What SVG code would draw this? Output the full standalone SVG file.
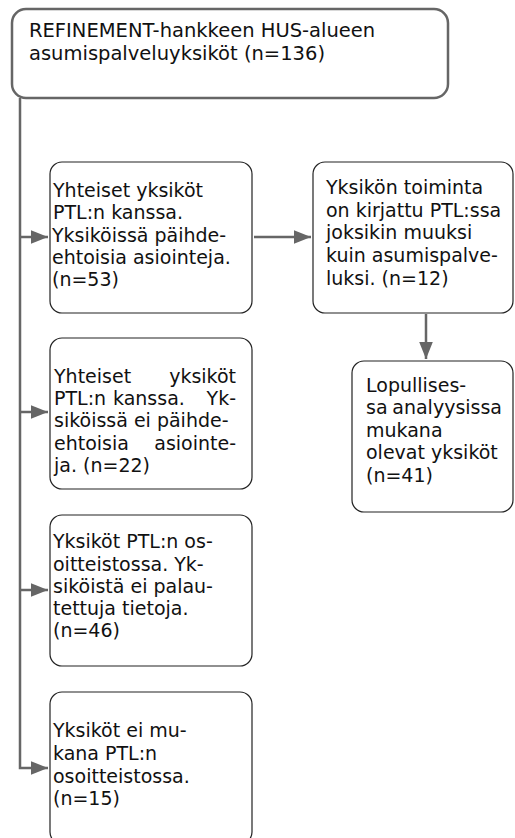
<svg xmlns="http://www.w3.org/2000/svg" width="515" height="838" viewBox="0 0 515 838">
<style>
text{font-family:"DejaVu Sans","Noto Sans",sans-serif;font-size:19px;fill:#111}
.big{font-size:19.5px}
.e{text-anchor:end}
.top{fill:#fff;stroke:#666;stroke-width:2.5}
.box{fill:#fff;stroke:#222;stroke-width:1.2}
.conn{fill:none;stroke:#666;stroke-width:2.5}
</style>
<defs>
<marker id="ah" markerWidth="8" markerHeight="8" refX="7" refY="4" orient="auto" markerUnits="strokeWidth">
<path d="M0,1.2 L7,4 L0,6.8 z" fill="#666"/>
</marker>
</defs>
<rect width="515" height="838" fill="#fff"/>
<g id="connectors">
<path class="conn" d="M20,98 V768 H48" marker-end="url(#ah)"/>
<path class="conn" d="M20,237 H48" marker-end="url(#ah)"/>
<path class="conn" d="M20,412 H48" marker-end="url(#ah)"/>
<path class="conn" d="M20,590 H48" marker-end="url(#ah)"/>
<path class="conn" d="M254,237 H311" marker-end="url(#ah)"/>
<path class="conn" d="M426,314 V359" marker-end="url(#ah)"/>
</g>
<g id="n0">
<rect class="top" x="12" y="9" width="436" height="89" rx="14"/>
<text class="big" x="29" y="37">REFINEMENT-hankkeen HUS-alueen</text>
<text class="big" x="29" y="60">asumispalveluyksiköt (n=136)</text>
</g>
<g id="n1">
<rect class="box" x="50" y="162" width="202" height="151" rx="12"/>
<text x="53" y="197">Yhteiset yksiköt</text>
<text x="53" y="219">PTL:n kanssa.</text>
<text x="52" y="242">Yksiköissä päihde-</text>
<text x="52" y="264">ehtoisia asiointeja.</text>
<text x="52" y="286">(n=53)</text>
</g>
<g id="n2">
<rect class="box" x="313" y="162" width="200" height="151" rx="12"/>
<text x="326" y="194">Yksikön toiminta</text>
<text x="326" y="217">on kirjattu PTL:ssa</text>
<text x="326" y="239">joksikin muuksi</text>
<text x="326" y="262">kuin asumispalve-</text>
<text x="326" y="285">luksi. (n=12)</text>
</g>
<g id="n3">
<rect class="box" x="352" y="361" width="161" height="151" rx="12"/>
<text x="366" y="392">Lopullises-</text>
<text x="366" y="414">sa</text>
<text class="e" x="502" y="414">analyysissa</text>
<text x="366" y="437">mukana</text>
<text x="366" y="459">olevat yksiköt</text>
<text x="366" y="482">(n=41)</text>
</g>
<g id="n4">
<rect class="box" x="50" y="338" width="202" height="151" rx="12"/>
<text x="54" y="383">Yhteiset</text>
<text class="e" x="236" y="383">yksiköt</text>
<text x="54" y="405">PTL:n</text>
<text x="113" y="405">kanssa.</text>
<text class="e" x="236" y="405">Yk-</text>
<text x="54" y="427">siköissä ei päihde-</text>
<text x="54" y="450">ehtoisia</text>
<text class="e" x="236" y="450">asiointe-</text>
<text x="54" y="472">ja. (n=22)</text>
</g>
<g id="n5">
<rect class="box" x="50" y="515" width="202" height="151" rx="12"/>
<text x="53" y="548">Yksiköt PTL:n os-</text>
<text x="53" y="571">oitteistossa. Yk-</text>
<text x="53" y="593">siköistä ei palau-</text>
<text x="53" y="615">tettuja tietoja.</text>
<text x="53" y="637">(n=46)</text>
</g>
<g id="n6">
<rect class="box" x="50" y="692" width="202" height="152" rx="12"/>
<text x="53" y="737">Yksiköt ei mu-</text>
<text x="53" y="760">kana PTL:n</text>
<text x="53" y="783">osoitteistossa.</text>
<text x="53" y="805">(n=15)</text>
</g>
</svg>
